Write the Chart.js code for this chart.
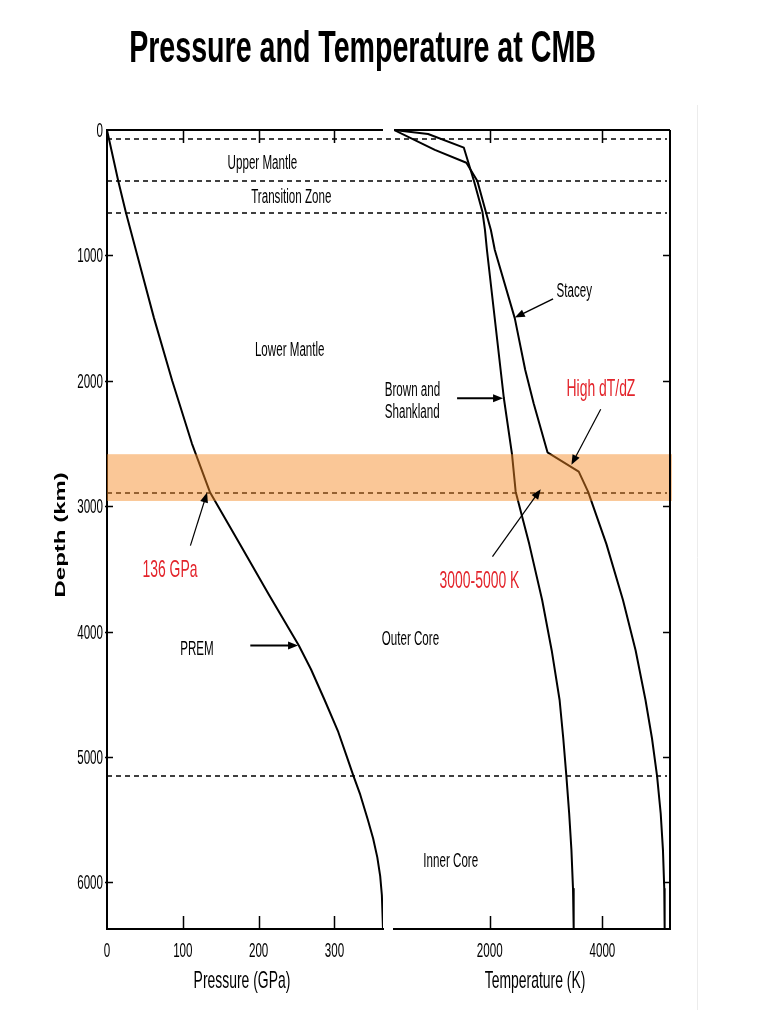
<!DOCTYPE html>
<html>
<head>
<meta charset="utf-8">
<script src="https://cdn.jsdelivr.net/npm/chart.js"></script>
<style>
  html, body { margin: 0; padding: 0; background: #fff; }
  canvas { display: block; }
</style>
</head>
<body>
<canvas id="cmb" width="768" height="1024"></canvas>
<script>
// PREM pressure vs depth
var premDepth    = [0, 410, 660, 1000, 1500, 2000, 2500, 2891, 3300, 3700, 4111, 4300, 4545, 4800, 5000, 5150, 5300, 5500, 5650, 5800, 5950, 6100, 6371];
var premPressure = [0, 15, 25, 40, 62, 86, 112, 136, 175, 213, 253, 269, 287, 305, 316.5, 325, 334, 344, 351, 356.5, 360.3, 362.5, 364];

// geotherms
var brownDepth = [0, 32, 141, 407, 652, 797, 957, 2137, 2584, 2884, 3300, 3748, 4150, 4545, 4850, 5150, 5450, 5742, 6050, 6371];
var brownTemp  = [300, 905, 1540, 1720, 1870, 1915, 1950, 2250, 2395, 2460, 2700, 2930, 3100, 3240, 3305, 3360, 3410, 3450, 3478, 3490];
var staceyDepth = [0, 159, 261, 407, 652, 797, 957, 1502, 1914, 2180, 2570, 2724, 2884, 3300, 3748, 4150, 4545, 4850, 5150, 5450, 5742, 6050, 6371];
var staceyTemp  = [300, 1025, 1585, 1780, 1930, 2020, 2090, 2445, 2630, 2780, 3025, 3580, 3745, 4070, 4365, 4590, 4765, 4880, 4970, 5035, 5075, 5098, 5105];

var depthTicks = [0, 1000, 2000, 3000, 4000, 5000, 6000];
var pressureTicks = [0, 100, 200, 300];
var tempTicks = [2000, 4000];

// dashed layer boundaries and the D" band (km)
var boundaries = [70, 410, 660, 2891, 5150];
var bandTop = 2585, bandBottom = 2958;

function pts(xs, ys) {
  return ys.map(function (d, i) { return {x: xs[i], y: d}; });
}

var RED = '#e3242b';
var FONT = "'Liberation Sans', Arial, sans-serif";
var SQ = 0.58;

var notes = [
  {t: 'Upper Mantle', s: 'x', v: 205, d: 313},
  {t: 'Transition Zone', s: 'x', v: 243, d: 580},
  {t: 'Lower Mantle', s: 'x', v: 241, d: 1801},
  {t: '136 GPa', s: 'x', v: 83, d: 3566, c: RED, size: 24},
  {t: 'PREM', s: 'x', v: 118.6, d: 4185},
  {t: 'Brown and', s: 'x2', v: 136, d: 2120, align: 'left'},
  {t: 'Shankland', s: 'x2', v: 136, d: 2298, align: 'left'},
  {t: 'Stacey', s: 'x2', v: 3500, d: 1329},
  {t: 'High dT/dZ', s: 'x2', v: 3974, d: 2120, c: RED, size: 24},
  {t: '3000-5000 K', s: 'x2', v: 1817, d: 3653, c: RED, size: 24},
  {t: 'Outer Core', s: 'x2', v: 592, d: 4105},
  {t: 'Inner Core', s: 'x2', v: 1308, d: 5877}
];

var arrows = [
  {s: 'x', from: [189, 4111], to: [252, 4111], w: 2},
  {s: 'x', from: [110, 3314], to: [132, 2891], w: 1.2},
  {s: 'x2', from: [1420, 2139], to: [2236, 2139], w: 2},
  {s: 'x2', from: [3124, 1347], to: [2444, 1496], w: 1.5},
  {s: 'x2', from: [3970, 2226], to: [3450, 2670], w: 1.2},
  {s: 'x2', from: [2048, 3401], to: [2905, 2864], w: 1.2}
];

function sqText(ctx, str, x, y, size, opt) {
  opt = opt || {};
  ctx.save();
  ctx.font = (opt.bold ? 'bold ' : '') + size + 'px ' + FONT;
  ctx.fillStyle = opt.color || '#000';
  ctx.textAlign = opt.align || 'center';
  ctx.textBaseline = 'alphabetic';
  ctx.translate(x, y);
  ctx.scale(opt.sq || SQ, 1);
  if (opt.rot) ctx.rotate(opt.rot);
  ctx.fillText(str, 0, 0);
  ctx.restore();
}

function arrow(ctx, x1, y1, x2, y2, w) {
  var ang = Math.atan2(y2 - y1, x2 - x1);
  var len = 10, hw = 4;
  ctx.save();
  ctx.strokeStyle = '#000';
  ctx.fillStyle = '#000';
  ctx.lineWidth = w;
  ctx.beginPath();
  ctx.moveTo(x1, y1);
  ctx.lineTo(x2 - Math.cos(ang) * len * 0.8, y2 - Math.sin(ang) * len * 0.8);
  ctx.stroke();
  ctx.beginPath();
  ctx.moveTo(x2, y2);
  ctx.lineTo(x2 - Math.cos(ang) * len + Math.sin(ang) * hw, y2 - Math.sin(ang) * len - Math.cos(ang) * hw);
  ctx.lineTo(x2 - Math.cos(ang) * len - Math.sin(ang) * hw, y2 - Math.sin(ang) * len + Math.cos(ang) * hw);
  ctx.closePath();
  ctx.fill();
  ctx.restore();
}

var decor = {
  id: 'decor',
  beforeDatasetsDraw: function (chart) {
    var ctx = chart.ctx, a = chart.chartArea, y = chart.scales.y;
    ctx.save();
    ctx.strokeStyle = '#000';
    ctx.lineWidth = 1.5;
    ctx.setLineDash([5, 4]);
    boundaries.forEach(function (d) {
      var py = Math.round(y.getPixelForValue(d));
      ctx.beginPath();
      ctx.moveTo(a.left, py);
      ctx.lineTo(a.right - 3, py);
      ctx.stroke();
    });
    ctx.restore();
  },
  afterDatasetsDraw: function (chart) {
    var ctx = chart.ctx, a = chart.chartArea, y = chart.scales.y;
    var t = y.getPixelForValue(bandTop), b = y.getPixelForValue(bandBottom);
    ctx.save();
    ctx.fillStyle = 'rgba(245,135,35,0.47)';
    ctx.fillRect(a.left, t, a.right - a.left + 2, b - t);
    ctx.restore();
  },
  afterDraw: function (chart) {
    var ctx = chart.ctx, a = chart.chartArea;
    var x = chart.scales.x, x2 = chart.scales.x2, y = chart.scales.y;

    // faint slide edge
    ctx.save();
    ctx.strokeStyle = '#ececec';
    ctx.lineWidth = 1;
    ctx.beginPath();
    ctx.moveTo(697.5, 105);
    ctx.lineTo(697.5, 1010);
    ctx.stroke();
    ctx.restore();

    // frame pieces and inward ticks
    ctx.save();
    ctx.strokeStyle = '#000';
    ctx.lineWidth = 2;
    ctx.beginPath();
    ctx.moveTo(x.left, a.top); ctx.lineTo(x.right, a.top);
    ctx.moveTo(x2.left, a.top); ctx.lineTo(x2.right, a.top);
    ctx.moveTo(x2.right, a.top); ctx.lineTo(x2.right, a.bottom);
    ctx.stroke();
    ctx.lineWidth = 1.5;
    ctx.beginPath();
    [[x, pressureTicks], [x2, tempTicks]].forEach(function (p) {
      p[1].forEach(function (v) {
        if (v === p[0].min) return;
        var px = Math.round(p[0].getPixelForValue(v)) + 0.5;
        ctx.moveTo(px, a.bottom); ctx.lineTo(px, a.bottom - 13);
        ctx.moveTo(px, a.top); ctx.lineTo(px, a.top + 13);
      });
    });
    depthTicks.forEach(function (d) {
      if (d === 0) return;
      var py = Math.round(y.getPixelForValue(d)) + 0.5;
      ctx.moveTo(a.left - 2, py); ctx.lineTo(a.left + 6, py);
      ctx.moveTo(x2.right, py); ctx.lineTo(x2.right - 7, py);
    });
    ctx.stroke();
    ctx.restore();

    // tick labels
    depthTicks.forEach(function (d) {
      sqText(ctx, String(d), a.left - 4, y.getPixelForValue(d) + 7, 20, {align: 'right'});
    });
    pressureTicks.forEach(function (v) {
      sqText(ctx, String(v), x.getPixelForValue(v), a.bottom + 28, 20);
    });
    tempTicks.forEach(function (v) {
      sqText(ctx, String(v), x2.getPixelForValue(v), a.bottom + 28, 20);
    });

    // axis titles
    sqText(ctx, 'Pressure (GPa)', x.getPixelForValue(178), a.bottom + 59, 24);
    sqText(ctx, 'Temperature (K)', x2.getPixelForValue(2804), a.bottom + 59, 24);
    sqText(ctx, 'Depth (km)', a.left - 42, y.getPixelForValue(3228), 24, {bold: true, rot: -Math.PI / 2});

    // chart title
    sqText(ctx, 'Pressure and Temperature at CMB', 362.5, 62, 44, {bold: true, sq: 0.65});

    // annotations
    notes.forEach(function (n) {
      var sc = chart.scales[n.s];
      sqText(ctx, n.t, sc.getPixelForValue(n.v), y.getPixelForValue(n.d), n.size || 20,
        {color: n.c, align: n.align});
    });
    arrows.forEach(function (r) {
      var sc = chart.scales[r.s];
      arrow(ctx, sc.getPixelForValue(r.from[0]), y.getPixelForValue(r.from[1]),
        sc.getPixelForValue(r.to[0]), y.getPixelForValue(r.to[1]), r.w);
    });
  }
};

var hidden = {display: false, drawTicks: false};

function curve(label, xs, ys, axis) {
  return {
    label: label,
    data: pts(xs, ys),
    xAxisID: axis, yAxisID: 'y',
    showLine: true, borderColor: '#000', borderWidth: 2, pointRadius: 0,
    borderJoinStyle: 'round',
    tension: 0
  };
}

var chart = new Chart(document.getElementById('cmb').getContext('2d'), {
  type: 'scatter',
  data: {
    datasets: [
      curve('PREM', premPressure, premDepth, 'x'),
      curve('Brown and Shankland', brownTemp, brownDepth, 'x2'),
      curve('Stacey', staceyTemp, staceyDepth, 'x2')
    ]
  },
  options: {
    responsive: false,
    animation: false,
    layout: { padding: { left: 107, right: 98, top: 130, bottom: 95 } },
    plugins: {
      legend: { display: false },
      tooltip: { enabled: false },
      title: { display: false }
    },
    scales: {
      x: {
        type: 'linear', position: 'bottom', stack: 'panels', stackWeight: 276,
        min: 0, max: 364,
        grid: hidden, ticks: { display: false },
        border: { display: true, color: '#000', width: 2 },
        afterBuildTicks: function (s) { s.ticks = pressureTicks.map(function (v) { return {value: v}; }); }
      },
      gap: {
        type: 'linear', position: 'bottom', stack: 'panels', stackWeight: 11,
        grid: hidden, ticks: { display: false }, border: { display: false }
      },
      x2: {
        type: 'linear', position: 'bottom', stack: 'panels', stackWeight: 276,
        min: 300, max: 5200,
        grid: hidden, ticks: { display: false },
        border: { display: true, color: '#000', width: 2 },
        afterBuildTicks: function (s) { s.ticks = tempTicks.map(function (v) { return {value: v}; }); }
      },
      y: {
        type: 'linear', position: 'left', reverse: true,
        min: 0, max: 6371,
        grid: hidden, ticks: { display: false },
        border: { display: true, color: '#000', width: 2 },
        afterBuildTicks: function (s) { s.ticks = depthTicks.map(function (v) { return {value: v}; }); }
      }
    }
  },
  plugins: [decor]
});
</script>
</body>
</html>
